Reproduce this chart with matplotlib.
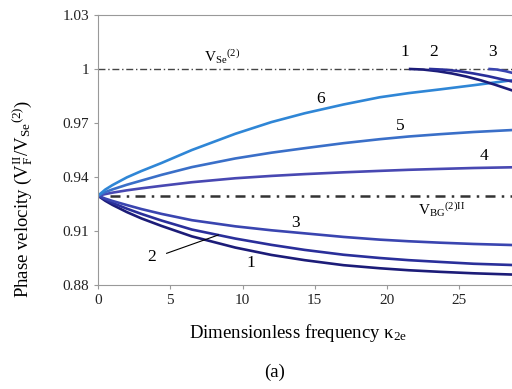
import matplotlib
matplotlib.use("Agg")
import matplotlib.pyplot as plt

plt.rcParams['font.family'] = ['Liberation Serif', 'DejaVu Serif']
plt.rcParams['mathtext.fontset'] = 'custom'
plt.rcParams['mathtext.rm'] = 'Liberation Serif'
plt.rcParams['mathtext.it'] = 'Liberation Serif:italic'

# lower branches (fundamental mode)
x_low = [0, 0.5, 1, 2, 3, 4.4, 6.5, 9.5, 12, 14.3, 17, 19.5, 21.5, 23.7, 26, 28.7]
c1 = [0.9296, 0.9268, 0.9245, 0.9205, 0.9170, 0.9128, 0.9070, 0.9008,
      0.8967, 0.8938, 0.8910, 0.8893, 0.8882, 0.8873, 0.8865, 0.8858]
c2 = [0.9296, 0.9275, 0.9256, 0.9224, 0.9195, 0.9158, 0.9108, 0.9058,
      0.9023, 0.8995, 0.8968, 0.8950, 0.8938, 0.8928, 0.8918, 0.8911]
c3 = [0.9296, 0.9280, 0.9267, 0.9244, 0.9222, 0.9195, 0.9160, 0.9126,
      0.9104, 0.9087, 0.9067, 0.9052, 0.9043, 0.9035, 0.9028, 0.9022]
c4 = [0.9296, 0.9305, 0.9313, 0.9326, 0.9337, 0.9351, 0.9371, 0.9393,
      0.9406, 0.9416, 0.9426, 0.9434, 0.9440, 0.9445, 0.9450, 0.9454]
c5 = [0.9296, 0.9316, 0.9331, 0.9357, 0.9380, 0.9412, 0.9455, 0.9503,
      0.9535, 0.9560, 0.9588, 0.9610, 0.9625, 0.9638, 0.9650, 0.9661]
c6 = [0.9296, 0.9330, 0.9355, 0.9398, 0.9433, 0.9478, 0.9550, 0.9640,
      0.9705, 0.9754, 0.9803, 0.9843, 0.9866, 0.9887, 0.9910, 0.9938]

# upper branches starting on the V_Se line
x_up1 = [21.6, 22.5, 23.5, 24.5, 25.5, 26.5, 27.5, 28.7]
up1 = [1.0, 0.9997, 0.9988, 0.9975, 0.9958, 0.9937, 0.9912, 0.9880]
x_up2 = [23.0, 24, 25, 26, 27, 28, 28.7]
up2 = [1.0, 0.9996, 0.9988, 0.9975, 0.9960, 0.9942, 0.9930]
x_up3 = [27.1, 27.6, 28.2, 28.7]
up3 = [1.0, 0.9997, 0.9988, 0.9978]

v_se = 1.0
v_bg = 0.9296

colors = ['#1c1c78', '#2a2f9a', '#3a45b0', '#4848b2', '#3a6fc8', '#2f86d6']

fig = plt.figure(figsize=(5.12, 3.89), dpi=100)
ax = fig.add_axes([98 / 512, 104 / 389, 433.5 / 512, 270 / 389])

ax.plot([0, 30], [v_se, v_se], color='#444444', lw=1.0,
        dashes=(5, 2, 1, 2))
ax.plot([0.8, 30], [v_bg, v_bg], color='#333333', lw=1.8,
        dashes=(4, 2.5, 1, 2.5))

lows = [c1, c2, c3, c4, c5, c6]
for ys, col in zip(lows, colors):
    ax.plot(x_low, ys, color=col, lw=1.9)
ax.plot(x_up1, up1, color=colors[0], lw=1.9)
ax.plot(x_up2, up2, color=colors[1], lw=1.9)
ax.plot(x_up3, up3, color=colors[2], lw=1.9)

ax.set_xlim(0, 30)
ax.set_ylim(0.88, 1.03)
ax.set_xticks([0, 5, 10, 15, 20, 25])
ax.set_yticks([0.88, 0.91, 0.94, 0.97, 1.0, 1.03])
ax.set_yticklabels(['0.88', '0.91', '0.94', '0.97', '1', '1.03'])
for s in ax.spines.values():
    s.set_color('#999999')
ax.tick_params(direction='out', length=3, color='#999999',
               labelsize=11, labelcolor='#222222')

fs = 12.5
ax.text(8.6, 1.0067, r'V$_{\mathrm{Se}}{}^{\mathrm{(2)}}$', fontsize=11,
        ha='center', va='center')
ax.text(23.8, 0.9217, r'V$_{\mathrm{BG}}{}^{\mathrm{(2)II}}$', fontsize=11,
        ha='center', va='center')
for tx, ty, s in [(21.2, 1.0094, '1'), (23.2, 1.0094, '2'), (27.3, 1.0094, '3'),
                  (15.4, 0.9833, '6'), (20.9, 0.9683, '5'), (26.7, 0.9516, '4'),
                  (13.7, 0.9146, '3'), (10.6, 0.8920, '1'), (3.7, 0.8957, '2')]:
    ax.text(tx, ty, s, fontsize=fs, ha='center', va='center')
ax.plot([4.75, 8.33], [0.8976, 0.9078], color='black', lw=0.8)

fig.text(0.582, 0.144, 'Dimensionless frequency κ$_{\\mathrm{2e}}$',
         fontsize=13.5, ha='center', va='center')
fig.text(0.537, 0.044, '(a)', fontsize=13.5, ha='center', va='center')
fig.text(0.045, 0.488,
         r'Phase velocity (V$_{\mathrm{F}}^{\mathrm{II}}$/V$_{\mathrm{Se}}{}^{\mathrm{(2)}}$)',
         fontsize=13.5, rotation=90, ha='center', va='center')

fig.savefig('out.png', dpi=100)
